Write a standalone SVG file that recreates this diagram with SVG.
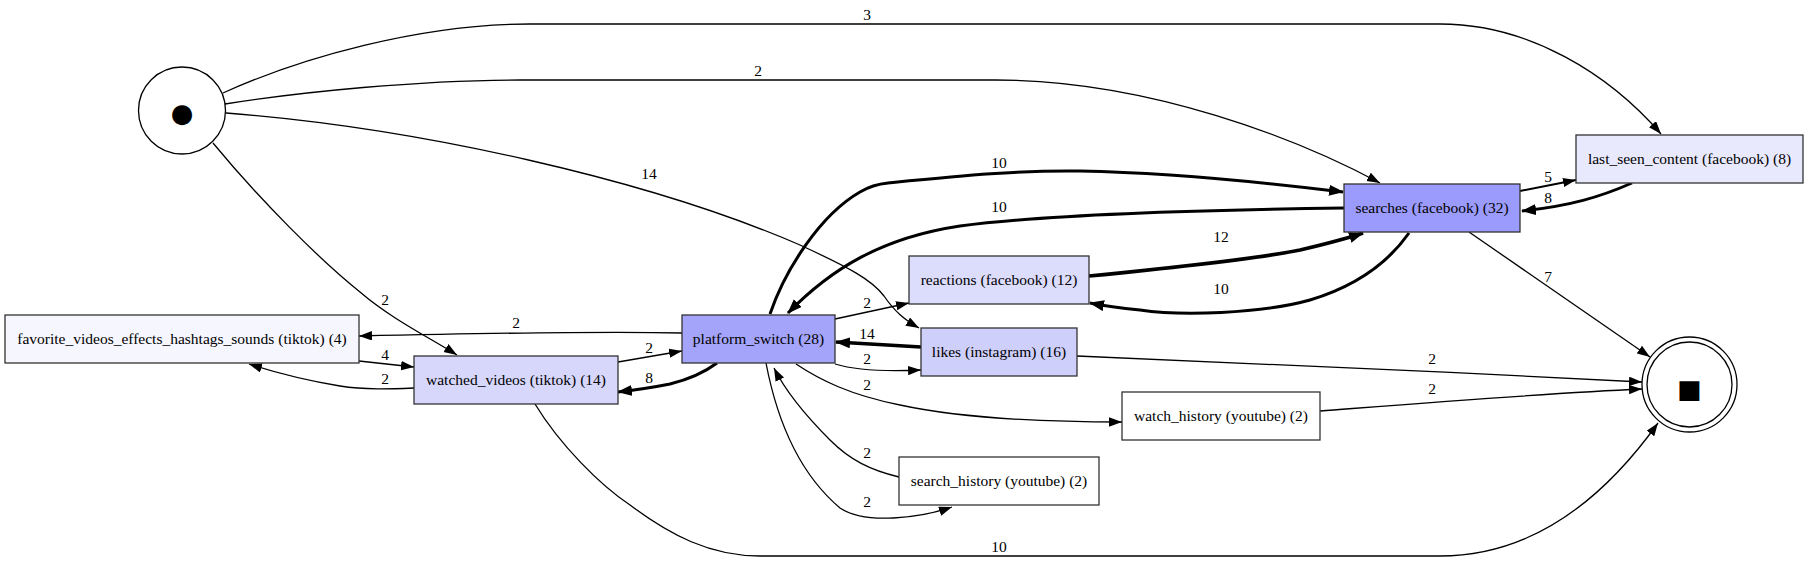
<svg xmlns="http://www.w3.org/2000/svg" width="1808" height="562" viewBox="0 0 1808 562">
<style>
.n rect{stroke:#333;stroke-width:1.3}
.t{font-family:"Liberation Serif","Times New Roman",serif;font-size:15.5px;fill:#000;text-anchor:middle}
.e path{fill:none;stroke:#000;stroke-width:1.3}
.e path.b{stroke-width:3}
.e path.m{stroke-width:2}
.e path.h{stroke-width:3.6}
.sym{font-family:"DejaVu Sans",sans-serif;fill:#000;text-anchor:middle}
</style>
<defs>
<marker id="a" markerUnits="userSpaceOnUse" markerWidth="14" markerHeight="10" refX="13" refY="4.7" orient="auto"><path d="M0,0 L13,4.7 L0,9.4 z" fill="#000"/></marker>
<marker id="ab" markerUnits="userSpaceOnUse" markerWidth="16" markerHeight="12" refX="14" refY="5.5" orient="auto"><path d="M0,0 L15,5.5 L0,11 z" fill="#000"/></marker>
</defs>
<rect width="1808" height="562" fill="#fff"/>
<g id="edges" class="e">
<path d="M223,93 C300,58 420,24 530,24 L1440,24 C1530,24 1610,75 1661,134" marker-end="url(#a)"/>
<path d="M225,104 C300,92 420,80 520,80 L995,80 C1150,80 1300,140 1380,183" marker-end="url(#a)"/>
<path d="M226,113 C420,128 650,180 800,245 C850,268 872,280 884,296 C895,312 905,320 919,328" marker-end="url(#a)"/>
<path d="M213,143 C260,200 320,260 360,292 C390,318 430,338 457,355" marker-end="url(#a)"/>
<path d="M682,333 C600,331 450,334 359,336" marker-end="url(#a)"/>
<path d="M359,361 L414,367" marker-end="url(#a)"/>
<path d="M414,388 C390,389 365,390 340,386 C310,381 280,374 249,364" marker-end="url(#a)"/>
<path d="M618,362 L682,351" marker-end="url(#a)"/>
<path class="b" d="M717,363 C705,372 690,379 670,384 C650,388 635,390 618,392" marker-end="url(#ab)"/>
<path class="b" d="M770,314 C785,270 820,215 860,192 C870,186 878,184 888,183 C960,176 1020,170 1080,171 C1180,173 1270,183 1343,192" marker-end="url(#ab)"/>
<path class="b" d="M1344,208 C1200,210 1050,214 960,226 C880,238 830,270 788,313" marker-end="url(#ab)"/>
<path class="h" d="M1089,276 C1150,270 1250,260 1300,250 C1330,243 1348,238 1363,233" marker-end="url(#ab)"/>
<path class="b" d="M1409,233 C1390,260 1360,285 1310,300 C1260,314 1180,316 1140,310 C1120,308 1105,306 1090,303" marker-end="url(#ab)"/>
<path d="M835,319 L909,303" marker-end="url(#a)"/>
<path class="h" d="M921,347 L836,342" marker-end="url(#ab)"/>
<path d="M835,364 C855,370 880,372 921,370" marker-end="url(#a)"/>
<path d="M796,364 C820,380 850,395 900,405 C960,418 1040,422 1122,422" marker-end="url(#a)"/>
<path d="M899,477 C870,470 850,460 830,440 C805,415 785,390 774,368" marker-end="url(#a)"/>
<path d="M766,363 C775,410 795,470 840,508 C865,525 920,518 952,507" marker-end="url(#a)"/>
<path d="M535,404 C560,445 600,485 630,505 C670,535 710,556 760,556 L1440,556 C1540,556 1610,490 1658,423" marker-end="url(#a)"/>
<path d="M1077,356 C1200,360 1450,372 1642,382" marker-end="url(#a)"/>
<path d="M1320,411 C1450,401 1550,393 1642,389" marker-end="url(#a)"/>
<path d="M1469,232 L1650,357" marker-end="url(#a)"/>
<path class="m" d="M1520,191 L1576,180" marker-end="url(#a)"/>
<path class="b" d="M1632,183 C1600,197 1570,206 1522,211" marker-end="url(#ab)"/>
<g class="t">
<text x="867" y="20">3</text>
<text x="758" y="76">2</text>
<text x="649" y="179">14</text>
<text x="385" y="305">2</text>
<text x="516" y="328">2</text>
<text x="385" y="360">4</text>
<text x="385" y="384">2</text>
<text x="649" y="353">2</text>
<text x="649" y="383">8</text>
<text x="999" y="168">10</text>
<text x="999" y="212">10</text>
<text x="1221" y="242">12</text>
<text x="1221" y="294">10</text>
<text x="867" y="308">2</text>
<text x="867" y="339">14</text>
<text x="867" y="364">2</text>
<text x="867" y="390">2</text>
<text x="867" y="458">2</text>
<text x="867" y="507">2</text>
<text x="999" y="552">10</text>
<text x="1432" y="364">2</text>
<text x="1432" y="394">2</text>
<text x="1548" y="282">7</text>
<text x="1548" y="182">5</text>
<text x="1548" y="203">8</text>
</g>
</g>
<g id="start" class="n">
<circle cx="182" cy="110.5" r="43.5" fill="#fff" stroke="#000" stroke-width="1.3"/>
<text class="sym" x="182" y="122" font-size="26">●</text>
</g>
<g id="end" class="n">
<circle cx="1689.5" cy="384.5" r="47.5" fill="#fff" stroke="#000" stroke-width="1.3"/>
<circle cx="1689.5" cy="384.5" r="42.5" fill="none" stroke="#000" stroke-width="1.3"/>
<text class="sym" x="1689.5" y="398" font-size="26">■</text>
</g>
<g id="favorite" class="n"><rect x="5" y="315" width="354" height="48" fill="#f6f6fe"/><text class="t" x="182" y="344">favorite_videos_effects_hashtags_sounds (tiktok) (4)</text></g>
<g id="watched" class="n"><rect x="414" y="356" width="204" height="48" fill="#d7d7fc"/><text class="t" x="516" y="385">watched_videos (tiktok) (14)</text></g>
<g id="platform" class="n"><rect x="682" y="315" width="153" height="48" fill="#a4a4fb"/><text class="t" x="758.5" y="344">platform_switch (28)</text></g>
<g id="reactions" class="n"><rect x="909" y="256" width="180" height="48" fill="#dcdcfd"/><text class="t" x="999" y="285">reactions (facebook) (12)</text></g>
<g id="likes" class="n"><rect x="921" y="328" width="156" height="48" fill="#cfcffc"/><text class="t" x="999" y="357">likes (instagram) (16)</text></g>
<g id="watch_history" class="n"><rect x="1122" y="392" width="198" height="48" fill="#fff"/><text class="t" x="1221" y="421">watch_history (youtube) (2)</text></g>
<g id="search_history" class="n"><rect x="899" y="457" width="200" height="48" fill="#fff"/><text class="t" x="999" y="486">search_history (youtube) (2)</text></g>
<g id="searches" class="n"><rect x="1344" y="184" width="176" height="48" fill="#9b9bfd"/><text class="t" x="1432" y="213">searches (facebook) (32)</text></g>
<g id="last_seen" class="n"><rect x="1576" y="135" width="227" height="48" fill="#e9e9fe"/><text class="t" x="1689.5" y="164">last_seen_content (facebook) (8)</text></g>
</svg>
